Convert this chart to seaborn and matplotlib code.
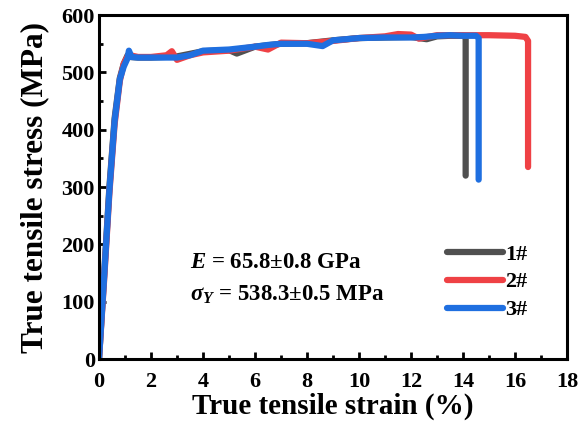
import matplotlib
matplotlib.use("Agg")
import matplotlib.pyplot as plt
import numpy as np
import pandas as pd
import seaborn as sns

# sample 1# (gray)
strain_1 = [0, 0.2, 0.4, 0.6, 0.8, 0.95, 1.1, 1.2, 1.5, 2, 3, 4, 5, 5.3, 6, 7, 8, 9,
            10, 11, 12, 12.6, 13, 13.5, 14.05, 14.1, 14.1]
stress_1 = [0, 150, 300, 420, 490, 515, 530, 527, 526, 526, 528, 537, 539, 533, 545,
            550, 551, 556, 560, 561, 562, 558, 563, 564, 564, 560, 320]

# sample 2# (red)
strain_2 = [0, 0.2, 0.4, 0.6, 0.8, 0.95, 1.1, 1.2, 1.5, 2, 2.6, 2.8, 3.0, 3.5, 4, 5,
            6, 6.5, 7, 8, 9, 10, 11, 11.5, 12, 12.3, 13, 14, 15, 16, 16.4, 16.5, 16.5]
stress_2 = [0, 140, 290, 410, 485, 515, 528, 530, 527, 527, 530, 537, 522, 530, 535,
            538, 545, 540, 552, 551, 555, 560, 563, 567, 566, 559, 565, 565, 565, 564,
            562, 555, 335]

# sample 3# (blue)
strain_3 = [0, 0.2, 0.4, 0.6, 0.8, 0.95, 1.1, 1.15, 1.25, 1.5, 2, 3, 3.5, 4, 5, 6,
            6.5, 7, 8, 8.6, 9, 10, 11, 12, 12.5, 13, 13.5, 14, 14.5, 14.6, 14.6]
stress_3 = [0, 145, 295, 415, 488, 510, 525, 538, 527, 526, 526, 526, 530, 538, 540,
            545, 548, 550, 550, 546, 556, 560, 561, 561, 562, 564, 565, 564, 564, 560,
            313]

samples = ["1#", "2#", "3#"]
colors = ["#505050", "#ef4145", "#1f6fe0"]

df = pd.concat([
    pd.DataFrame({"strain": s, "stress": t, "sample": name})
    for s, t, name in zip([strain_1, strain_2, strain_3],
                          [stress_1, stress_2, stress_3], samples)
], ignore_index=True)

sns.set_style("ticks")
plt.rcParams["font.family"] = ["Liberation Serif", "DejaVu Serif"]
plt.rcParams["font.weight"] = "bold"
plt.rcParams["text.color"] = "black"
plt.rcParams["axes.labelcolor"] = "black"
plt.rcParams["xtick.color"] = "black"
plt.rcParams["ytick.color"] = "black"
plt.rcParams["axes.edgecolor"] = "black"
plt.rcParams["mathtext.fontset"] = "custom"
plt.rcParams["mathtext.rm"] = "Liberation Serif:bold"
plt.rcParams["mathtext.it"] = "Liberation Serif:bold:italic"
plt.rcParams["mathtext.bf"] = "Liberation Serif:bold"

fig = plt.figure(figsize=(5.8, 4.24), dpi=100)
ax = fig.add_axes([0.1707, 0.1533, 0.807, 0.811])

sns.lineplot(data=df, x="strain", y="stress", hue="sample", palette=colors,
             estimator=None, sort=False, lw=4.5, ax=ax, legend=False)
for line in ax.lines:
    line.set_solid_capstyle("round")
    line.set_solid_joinstyle("round")

ax.set_xlim(0, 18)
ax.set_ylim(0, 600)
ax.set_xticks(np.arange(0, 19, 2))
ax.set_xticks(np.arange(1, 18, 2), minor=True)
ax.set_yticks(np.arange(0, 601, 100))
ax.set_yticks(np.arange(50, 600, 100), minor=True)
ax.tick_params(which="both", direction="in", width=2, labelsize=16, pad=3)
ax.tick_params(axis="x", which="both", pad=9)
ax.tick_params(which="major", length=5)
ax.tick_params(which="minor", length=3)
for lab in ax.get_xticklabels() + ax.get_yticklabels():
    lab.set_fontweight("bold")
for sp in ax.spines.values():
    sp.set_visible(True)
    sp.set_linewidth(2.2)

ax.set_xlabel("True tensile strain (%)", fontsize=21, fontweight="bold", labelpad=1)
ax.set_ylabel("True tensile stress (MPa)", fontsize=22.5, fontweight="bold", labelpad=9)

ax.text(0.194, 0.282, r"$E$ = 65.8$\pm$0.8 GPa", transform=ax.transAxes,
        fontsize=16.5, fontweight="bold", va="center")
ax.text(0.194, 0.186, r"$\sigma_Y$ = 538.3$\pm$0.5 MPa", transform=ax.transAxes,
        fontsize=16.5, fontweight="bold", va="center")

handles = [plt.Line2D([], [], color=c, lw=4.5, solid_capstyle="round") for c in colors]
ax.legend(handles, samples, loc="upper left", frameon=False,
          bbox_to_anchor=(447 / 580, 1 - 244 / 424), bbox_transform=fig.transFigure,
          borderpad=0, borderaxespad=0, handlelength=2.5, handletextpad=0.1,
          labelspacing=0.33, prop={"size": 16, "weight": "bold"})

fig.savefig("out.png", dpi=100)
